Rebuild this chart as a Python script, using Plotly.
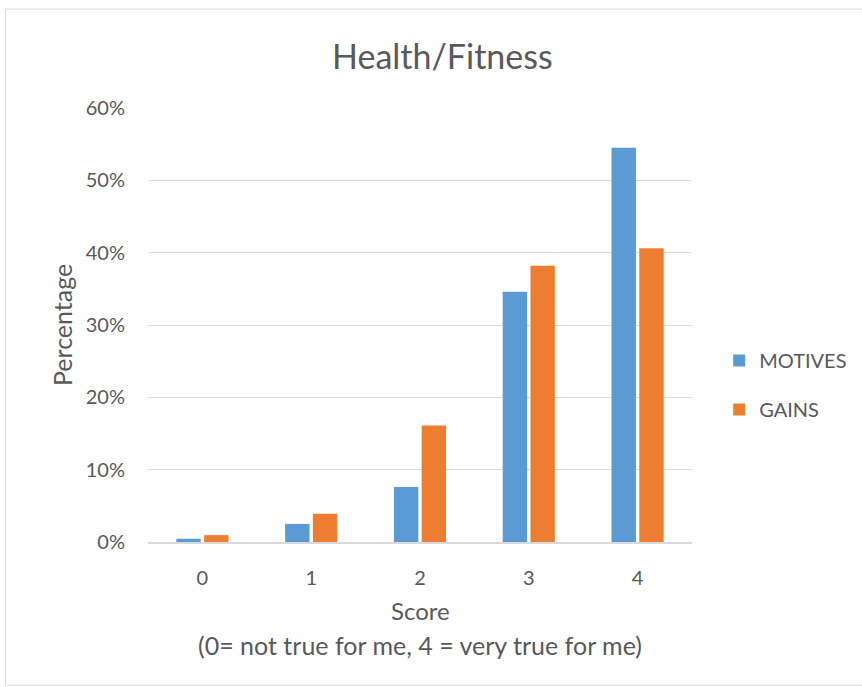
import plotly.graph_objects as go

# Score categories and share of respondents (percent) per score
scores = ["0", "1", "2", "3", "4"]
motives = [0.45, 2.5, 7.6, 34.6, 54.5]
gains = [0.95, 3.9, 16.1, 38.2, 40.6]

series_names = ["MOTIVES", "GAINS"]
colors = ["#5B9BD5", "#ED7D31"]
text_color = "#595959"
grid_color = "#D9D9D9"
font_family = "Lato, 'Open Sans', sans-serif"

fig = go.Figure()
for name, vals, col, grp in zip(series_names, [motives, gains], colors, ["a", "b"]):
    fig.add_trace(go.Bar(
        x=scores, y=[v / 100 for v in vals], name=name,
        marker=dict(color=col, line=dict(width=0)),
        legendgroup=grp,
    ))

fig.update_layout(
    width=862, height=687,
    margin=dict(l=148, r=170, t=108, b=145, autoexpand=False),
    paper_bgcolor="white", plot_bgcolor="white",
    barmode="group", bargap=0.49, bargroupgap=0.12,
    font=dict(family=font_family, color=text_color, size=20),
    showlegend=True,
    legend=dict(
        x=1.05, y=0.362, xanchor="left", yanchor="middle",
        font=dict(size=20, color=text_color),
        tracegroupgap=20, itemwidth=30,
        bgcolor="rgba(0,0,0,0)",
    ),
    xaxis=dict(
        showgrid=False, showline=True, linecolor=grid_color, linewidth=1.5,
        ticks="", tickfont=dict(size=20, color=text_color),
        ticklabelstandoff=17,
    ),
    yaxis=dict(
        range=[0, 0.6], dtick=0.1, tickformat=".0%",
        showgrid=True, gridcolor=grid_color, gridwidth=1,
        zeroline=False, showline=False, ticks="",
        tickfont=dict(size=20, color=text_color),
        ticklabelstandoff=22,
    ),
    annotations=[
        dict(text="Health/Fitness", xref="paper", yref="paper",
             x=0.5, xshift=22, y=1, yshift=53, xanchor="center", yanchor="middle",
             showarrow=False, font=dict(size=34, color=text_color)),
        dict(text="Percentage", xref="paper", yref="paper",
             x=0, xshift=-86, y=0.5, textangle=-90,
             xanchor="center", yanchor="middle",
             showarrow=False, font=dict(size=25, color=text_color)),
        dict(text="Score", xref="paper", yref="paper",
             x=0.5, y=0, yshift=-68, xanchor="center", yanchor="middle",
             showarrow=False, font=dict(size=24, color=text_color)),
        dict(text="(0= not true for me, 4 = very true for me)", xref="paper", yref="paper",
             x=0.5, y=0, yshift=-103, xanchor="center", yanchor="middle",
             showarrow=False, font=dict(size=25, color=text_color)),
    ],
    shapes=[
        dict(type="rect", xref="paper", yref="paper",
             x0=-0.262, x1=1.4, y0=-0.33, y1=1.228,
             line=dict(color=grid_color, width=1), fillcolor="rgba(0,0,0,0)",
             layer="below"),
    ],
)

fig.write_html("out.html")
